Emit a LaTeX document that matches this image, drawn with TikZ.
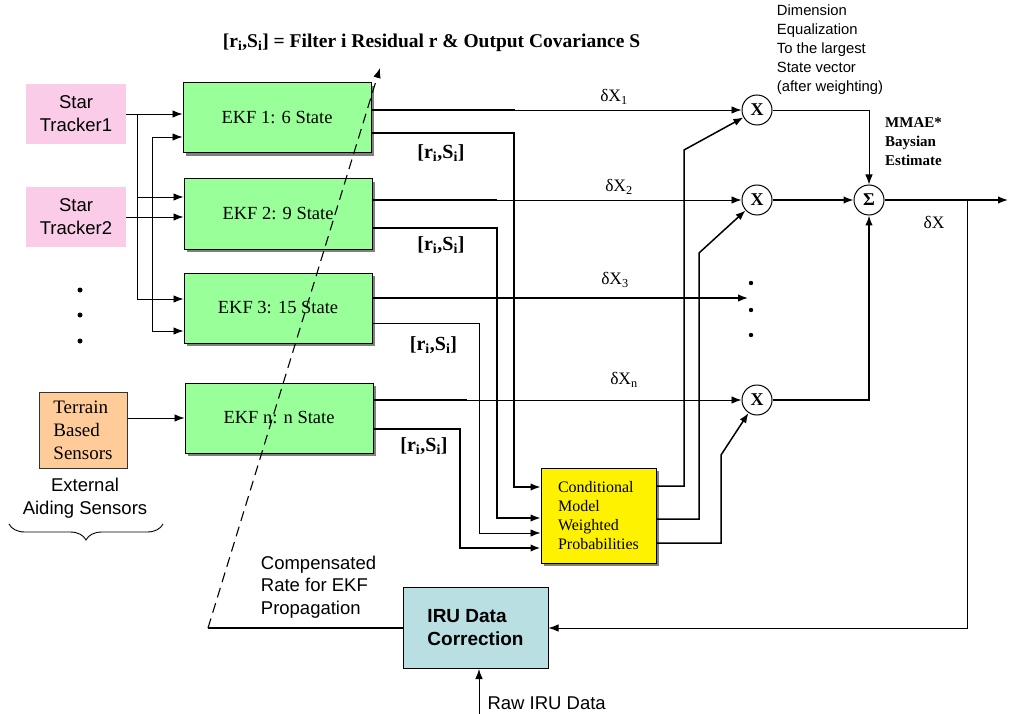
\documentclass[tikz,border=0pt]{standalone}
\usepackage{fontspec,xcolor}
\setmainfont{Liberation Serif}
\newfontfamily\arial{Liberation Sans}
\usetikzlibrary{arrows.meta,shadows,decorations.pathreplacing}
\definecolor{irublue}{RGB}{185,223,226}

\begin{document}
\begin{tikzpicture}[x=1pt,y=-1pt,
  arr/.style={-{Latex[length=10pt,width=7.5pt]}},
  wire/.style={line width=0.9pt},
  wide/.style={line width=1.5pt},
  fat/.style={line width=2.2pt},
  shade/.style={drop shadow={shadow xshift=3pt,shadow yshift=-3pt,fill=gray,opacity=1}},
  ekf/.style={draw,line width=1pt,fill=green!40,minimum width=188pt,minimum height=70pt,font=\fontsize{18.5}{22}\selectfont,shade},
  src/.style={fill=magenta!20,minimum width=100pt,minimum height=60pt,align=center,font=\arial\fontsize{18.5}{23}\selectfont},
  mult/.style={draw,circle,line width=1pt,fill=white,minimum size=30pt,inner sep=0pt,font=\bfseries\fontsize{18}{18}\selectfont},
  lbl/.style={font=\fontsize{17.5}{17.5}\selectfont},
  rs/.style={font=\bfseries\fontsize{20}{20}\selectfont}]
\useasboundingbox (0,0) rectangle (1009,714);

\node[src] (ST1) at (76,114) {Star\\Tracker1};
\node[src] (ST2) at (76,217) {Star\\Tracker2};
\foreach \y in {290,315,341} \fill (80,\y) circle (2.5);
\node[draw=black!80,line width=1pt,fill=orange!40,minimum width=88pt,minimum height=76pt,align=left,font=\fontsize{19}{23}\selectfont] (TBS) at (83,430) {Terrain\\Based\\Sensors};
\node[align=center,font=\arial\fontsize{18.5}{23}\selectfont] (ext) at (85,498) {External\\Aiding Sensors};
\draw[wire,decorate,decoration={brace,amplitude=16pt}] (163,524) -- (9,524);

\node[ekf] (EKF1) at (277,118) {EKF 1: 6 State};
\node[ekf] (EKF2) at (278,214) {EKF 2: 9 State};
\node[ekf] (EKF3) at (278,308) {EKF 3: 15 State};
\node[ekf] (EKFn) at (279,418) {EKF n: n State};

\node[draw,line width=1pt,fill=yellow,minimum width=115pt,minimum height=95pt,align=left,font=\fontsize{16}{19}\selectfont,shade] (CMWP) at (598.5,515.5) {Conditional\\Model\\Weighted\\Probabilities};
\node[draw,line width=1pt,fill=irublue,minimum width=145pt,minimum height=81pt,align=left,font=\arial\bfseries\fontsize{19}{23}\selectfont] (IRU) at (475.5,628) {IRU Data\\Correction};

\node[mult] (X1) at (757,110) {X};
\node[mult] (X2) at (757,200) {X};
\node[mult] (Xn) at (757,400) {X};
\node[mult] (Sum) at (869,200) {Σ};
\foreach \y in {283,310,335} \fill (751,\y) circle (2.2);

\node[font=\bfseries\fontsize{19.5}{20}\selectfont] (title) at (431.5,43) {[r\textsubscript{i},S\textsubscript{i}] = Filter i Residual r \& Output Covariance S};
\node[align=left,font=\arial\fontsize{14.8}{19}\selectfont] (dimeq) at (830,50) {Dimension\\Equalization\\To the largest\\State vector\\(after weighting)};
\node[align=left,font=\bfseries\fontsize{15}{19}\selectfont] (mmae) at (913.5,142) {MMAE*\\Baysian\\Estimate};
\node[align=left,font=\arial\fontsize{18.5}{22.5}\selectfont] (comp) at (318.5,587) {Compensated\\Rate for EKF\\Propagation};
\node[anchor=west,font=\arial\fontsize{18.5}{20}\selectfont] (rawlbl) at (484,703) {Raw IRU Data};
\foreach \n/\x/\y/\s in {dx1/614/97/1,dx2/619/187/2,dx3/615/280/3,dxn/624/380/n} \node[lbl] (\n) at (\x,\y) {δX\textsubscript{\s}};
\node[lbl] (dX) at (934,222) {δX};
\foreach \n/\x/\y in {rs1/441/153,rs2/441/245,rs3/433.5/345,rsn/424/446} \node[rs] (\n) at (\x,\y) {[r\textsubscript{i},S\textsubscript{i}]};

\coordinate (tapA) at (137,114);
\coordinate (tapB) at (152,217);
\draw[wire,arr] (ST1.east) -- (ST1.east -| EKF1.west);
\draw[wire,arr] (ST2.east) -- (ST2.east -| EKF2.west);
\draw[wire,arr] (tapA) |- ([yshift=17pt]EKF2.west);
\draw[wire,arr] (tapA) |- ([yshift=9pt]EKF3.west);
\draw[wire,arr] (tapB) |- ([yshift=-19pt]EKF1.west);
\draw[wire,arr] (tapB) |- ([yshift=-23pt]EKF3.west);
\draw[wire,arr] (TBS.east |- EKFn.west) -- (EKFn.west);

\coordinate (dots) at (748,298);
\draw[wire,arr] (EKF1.east |- X1) -- (X1.west);
\draw[fat] (EKF1.east |- X1) -- (515,110);
\draw[wire,arr] (EKF2.east |- X2) -- (X2.west);
\draw[fat] (EKF2.east |- X2) -- (497,200);
\draw[wide,arr] (EKF3.east |- dots) -- (dots);
\draw[wire,arr] (EKFn.east |- Xn) -- (Xn.west);
\draw[fat] (EKFn.east |- Xn) -- (467,400);

\draw[wide,arr] ([yshift=-15pt]EKF1.east) -- (514,133) |- ([yshift=28.5pt]CMWP.west);
\draw[fat] ([yshift=-15pt]EKF1.east) -- (514,133);
\draw[wide,arr] ([yshift=-14pt]EKF2.east) -- (497,228) |- ([yshift=-2.5pt]CMWP.west);
\draw[fat] ([yshift=-14pt]EKF2.east) -- (497,228);
\draw[wire,arr] ([yshift=-15pt]EKF3.east) -- (479,323) |- ([yshift=-17.5pt]CMWP.west);
\draw[fat,arr] ([yshift=-11pt]EKFn.east) -- (460,429) |- ([yshift=-32.5pt]CMWP.west);

\draw[wide,arr] ([yshift=29.5pt]CMWP.east) -| (684,150) -- (X1);
\draw[wide,arr] ([yshift=-3.5pt]CMWP.east) -| (699,253) -- (X2);
\draw[wide,arr] ([yshift=-27.5pt]CMWP.east) -| (721,455) -- (Xn);

\coordinate (out) at (1008,200);
\coordinate (fb) at (967,200);
\draw[wire,arr] (X1.east) -| (Sum.north);
\draw[wide,arr] (X2.east) -- (Sum.west);
\draw[wide,arr] (Xn.east) -| (Sum.south);
\draw[wide,arr] (Sum.east) -- (out);
\draw[wire,arr] (fb) |- (IRU.east);

\coordinate (bend) at (208,628);
\coordinate (tip) at (380,68);
\coordinate (rawin) at (479,714);
\draw[wide] (IRU.west) -- (bend);
\draw[line width=1.1pt,arr,dash pattern=on 10pt off 6pt] (bend) -- (tip);
\draw[wire,arr] (rawin) -- (rawin |- IRU.south);
\end{tikzpicture}
\end{document}
